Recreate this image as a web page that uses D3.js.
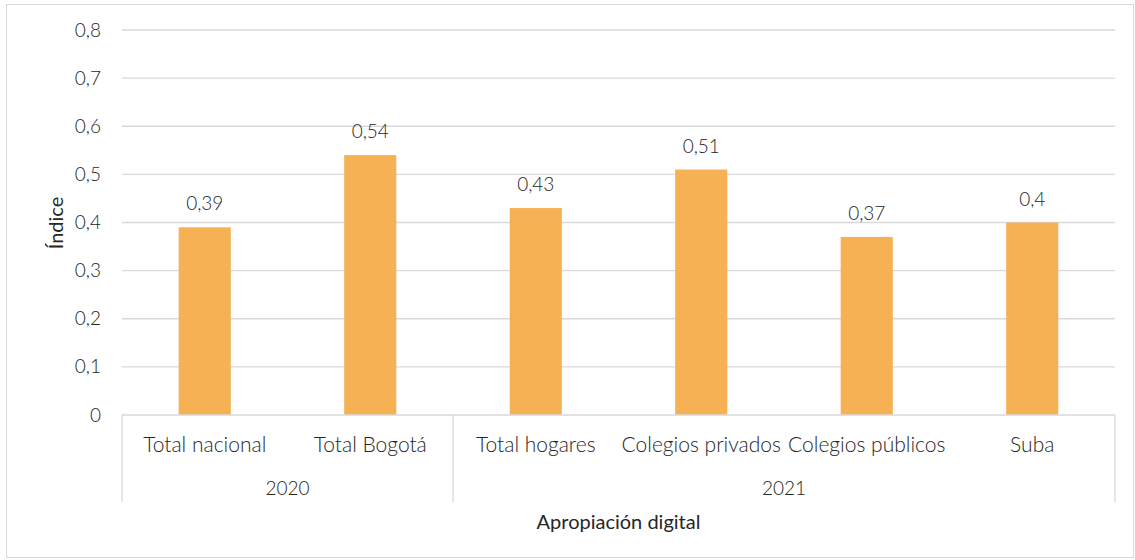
<!DOCTYPE html>
<html lang="es">
<head>
  <meta charset="UTF-8">
  <title>Apropiación digital</title>
  <script src="https://d3js.org/d3.v7.min.js"></script>
  <style>
    body { margin: 0; background: white; }
    text { font-family: Lato, "Open Sans", sans-serif; fill: #262626; }
  </style>
</head>
<body>
  <div id="chart"></div>
  <script>
    // datos
    const categories = ["Total nacional", "Total Bogotá", "Total hogares", "Colegios privados", "Colegios públicos", "Suba"];
    const values = [0.39, 0.54, 0.43, 0.51, 0.37, 0.4];
    const groups = ["2020", "2021"];
    const groupSizes = [2, 4];
    const yTicks = [0, 0.1, 0.2, 0.3, 0.4, 0.5, 0.6, 0.7, 0.8];

    const width = 1135, height = 560;
    const plotL = 122, plotR = 1115, plotT = 30, plotB = 415;
    const fmt = v => String(v).replace(".", ",");

    const svg = d3.select("#chart").append("svg")
      .attr("width", width).attr("height", height);

    svg.append("rect")
      .attr("x", 6.5).attr("y", 4.5).attr("width", 1127).attr("height", 553)
      .attr("fill", "white").attr("stroke", "#d9d9d9").attr("stroke-width", 1);

    const x = d3.scaleBand().domain(categories).range([plotL, plotR]).padding(0);
    const y = d3.scaleLinear().domain([0, 0.8]).range([plotB, plotT]);
    const barW = x.bandwidth() * 0.315;

    // gridlines
    svg.append("g").selectAll("line").data(yTicks.slice(1)).join("line")
      .attr("x1", plotL).attr("x2", plotR)
      .attr("y1", d => y(d)).attr("y2", d => y(d))
      .attr("stroke", "#d9d9d9").attr("stroke-width", 1.3);

    // eje y
    const yAxis = svg.append("g")
      .attr("transform", `translate(${plotL},0)`)
      .call(d3.axisLeft(y).tickValues(yTicks).tickSize(0).tickPadding(21).tickFormat(fmt));
    yAxis.select(".domain").remove();
    yAxis.selectAll("text").style("font-size", "19px").attr("fill", "#262626").style("font-weight", 300);

    // barras
    svg.append("g").selectAll("rect").data(categories).join("rect")
      .attr("x", d => x(d) + (x.bandwidth() - barW) / 2)
      .attr("y", (d, i) => y(values[i]))
      .attr("width", barW)
      .attr("height", (d, i) => y(0) - y(values[i]))
      .attr("fill", "#f6b155");

    svg.append("g").selectAll("text").data(categories).join("text")
      .attr("x", d => x(d) + x.bandwidth() / 2)
      .attr("y", (d, i) => y(values[i]) - 17)
      .attr("text-anchor", "middle")
      .style("font-size", "19px").style("font-weight", 300)
      .text((d, i) => fmt(values[i]));

    // eje x
    svg.append("line")
      .attr("x1", plotL).attr("x2", plotR).attr("y1", plotB).attr("y2", plotB)
      .attr("stroke", "#d9d9d9").attr("stroke-width", 1.3);

    const xAxis = svg.append("g")
      .attr("transform", `translate(0,${plotB})`)
      .call(d3.axisBottom(x).tickSize(0).tickPadding(0));
    xAxis.select(".domain").remove();
    xAxis.selectAll("text").attr("dy", null).attr("y", 37)
      .style("font-size", "21px").style("font-weight", 300).attr("fill", "#262626");

    // separadores de grupo
    let idx = 0;
    const bounds = [plotL];
    groupSizes.forEach(n => { idx += n; bounds.push(idx < categories.length ? x(categories[idx]) : plotR); });
    svg.append("g").selectAll("line").data(bounds).join("line")
      .attr("x1", d => d).attr("x2", d => d).attr("y1", plotB).attr("y2", 502)
      .attr("stroke", "#d9d9d9").attr("stroke-width", 1.3);

    svg.append("g").selectAll("text").data(groups).join("text")
      .attr("x", (d, i) => (bounds[i] + bounds[i + 1]) / 2)
      .attr("y", 495)
      .attr("text-anchor", "middle")
      .style("font-size", "19px").style("font-weight", 300)
      .text(d => d);

    // titulos
    svg.append("text")
      .attr("x", (plotL + plotR) / 2).attr("y", 529)
      .attr("text-anchor", "middle").style("font-size", "20px").attr("fill", "black")
      .text("Apropiación digital");

    svg.append("text")
      .attr("transform", `translate(63,223) rotate(-90)`)
      .attr("text-anchor", "middle").style("font-size", "20px").attr("fill", "black")
      .text("Índice");
  </script>
</body>
</html>
